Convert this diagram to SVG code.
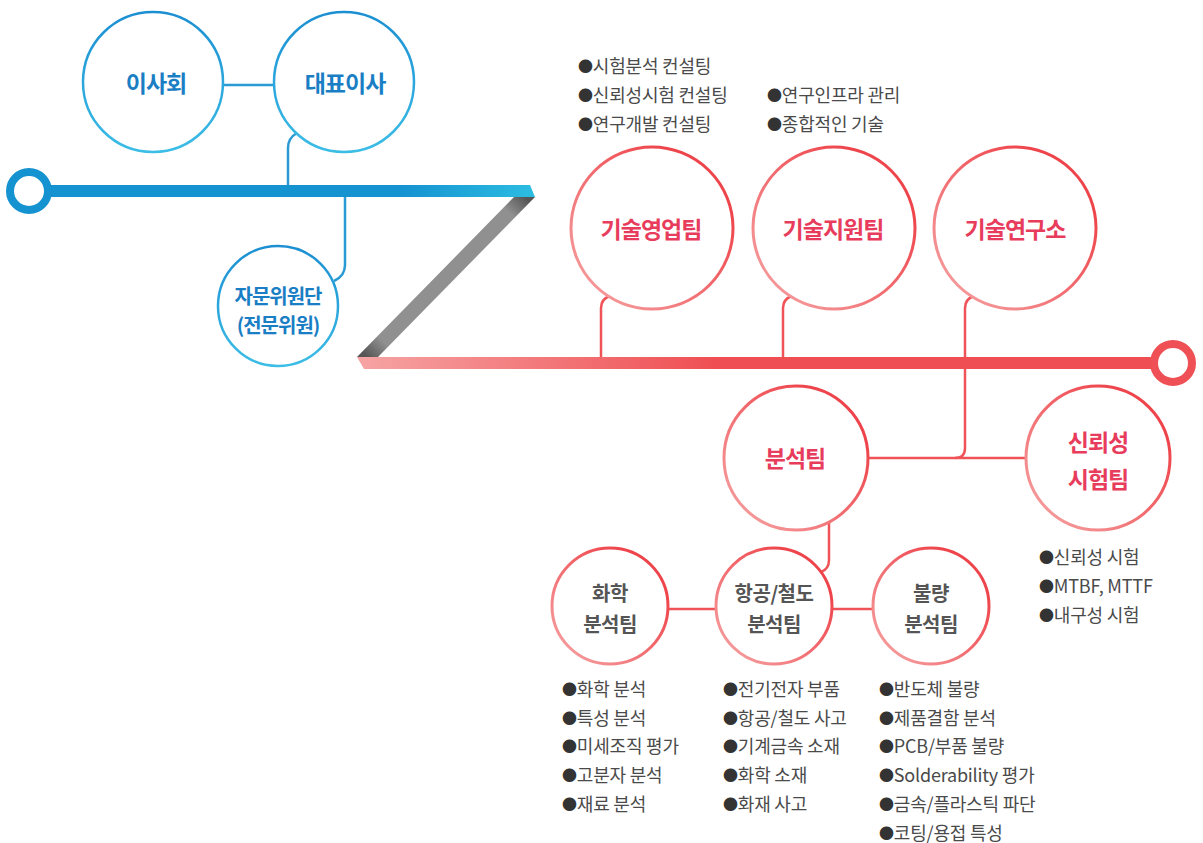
<svg xmlns="http://www.w3.org/2000/svg" width="1203" height="843" viewBox="0 0 1203 843">
<defs>
<linearGradient id="gBlueCircle" x1="0" y1="0" x2="0" y2="1"><stop offset="0" stop-color="#1b8fd2"/><stop offset="1" stop-color="#3cbde6"/></linearGradient>
<linearGradient id="gRedCircle" x1="1" y1="0" x2="0" y2="1"><stop offset="0.2" stop-color="#ee444b"/><stop offset="1" stop-color="#f6a7a7"/></linearGradient>
<linearGradient id="gBlueBar" gradientUnits="userSpaceOnUse" x1="400" y1="0" x2="535" y2="0"><stop offset="0" stop-color="#1592d0"/><stop offset="1" stop-color="#2cbde2"/></linearGradient>
<linearGradient id="gRedBar" gradientUnits="userSpaceOnUse" x1="357" y1="0" x2="720" y2="0"><stop offset="0" stop-color="#f6a4a4"/><stop offset="1" stop-color="#ef4e52"/></linearGradient>
<linearGradient id="gGray" gradientUnits="userSpaceOnUse" x1="525" y1="197" x2="367" y2="357"><stop offset="0" stop-color="#555"/><stop offset="0.1" stop-color="#909090"/><stop offset="0.9" stop-color="#909090"/><stop offset="1" stop-color="#555"/></linearGradient>
</defs>
<style>
.bc{fill:#fff;stroke:url(#gBlueCircle);stroke-width:2.5}
.rc{fill:#fff;stroke:url(#gRedCircle);stroke-width:3}
.bl{fill:none;stroke:#2a9ad5;stroke-width:2.5}
.rl{fill:none;stroke:#ef5358;stroke-width:2.5}
.tb{font-family:"Noto Sans CJK KR","Noto Sans",sans-serif;font-weight:700;font-size:23px;fill:#1a7ec4;text-anchor:middle;dominant-baseline:central;letter-spacing:-1px}
.tr{font-family:"Noto Sans CJK KR","Noto Sans",sans-serif;font-weight:700;font-size:23px;fill:#e83c5c;text-anchor:middle;dominant-baseline:central;letter-spacing:-1px}
.tg{font-family:"Noto Sans CJK KR","Noto Sans",sans-serif;font-weight:700;font-size:20px;fill:#555;text-anchor:middle;dominant-baseline:central;letter-spacing:-0.5px}
.li{font-family:"Noto Sans CJK KR","Noto Sans",sans-serif;font-size:18px;fill:#4a4a4a;dominant-baseline:central;letter-spacing:-0.2px}
.bu{font-size:15px;fill:#333}
</style>
<rect width="1203" height="843" fill="#fff"/>
<g id="connectors">
<line class="bl" x1="223" y1="85" x2="274" y2="85"/>
<path class="bl" d="M288,186 V148 Q288,138 297,133"/>
<path class="bl" d="M345,196 V265 Q345,276 334,281"/>
<path class="rl" d="M601,358 V308 Q601,299 610,296"/>
<path class="rl" d="M783,358 V308 Q783,299 792,296"/>
<path class="rl" d="M974,296 Q965,299 965,308 V448 Q965,458 955,458"/>
<line class="rl" x1="868" y1="458" x2="1026" y2="458"/>
<path class="rl" d="M829,522 V560 Q829,569 821,572"/>
<line class="rl" x1="668" y1="609" x2="716" y2="609"/>
<line class="rl" x1="832" y1="609" x2="873" y2="609"/>
</g>
<g id="track">
<polygon points="29,185 530,185 535,197 29,197" fill="url(#gBlueBar)"/>
<circle cx="29" cy="191" r="19" fill="#fff" stroke="#1592d0" stroke-width="8"/>
<polygon points="514,197 535,197 378,357 357,357" fill="url(#gGray)"/>
<polygon points="357,357 1173,357 1173,369 364,369" fill="url(#gRedBar)"/>
<circle cx="1173" cy="363" r="19" fill="#fff" stroke="#ef5055" stroke-width="8"/>
</g>
<g id="node-board"><circle class="bc" cx="153" cy="82" r="70"/><text class="tb" x="156" y="82">이사회</text></g>
<g id="node-ceo"><circle class="bc" cx="344" cy="82" r="70"/><text class="tb" x="345" y="82">대표이사</text></g>
<g id="node-advisory"><circle class="bc" cx="278" cy="306" r="60"/><text class="tb" x="278" y="295" style="font-size:20px">자문위원단</text><text class="tb" x="278" y="324" style="font-size:20px">(전문위원)</text></g>
<g id="node-sales"><circle class="rc" cx="652" cy="228" r="81"/><text class="tr" x="651" y="228">기술영업팀</text></g>
<g id="node-support"><circle class="rc" cx="834" cy="228" r="81"/><text class="tr" x="833" y="228">기술지원팀</text></g>
<g id="node-lab"><circle class="rc" cx="1015" cy="228" r="81"/><text class="tr" x="1015" y="228">기술연구소</text></g>
<g id="node-analysis"><circle class="rc" cx="796" cy="458" r="72"/><text class="tr" x="795" y="457">분석팀</text></g>
<g id="node-reliability"><circle class="rc" cx="1098" cy="458" r="72"/><text class="tr" x="1098" y="441">신뢰성</text><text class="tr" x="1098" y="478">시험팀</text></g>
<g id="node-chem"><circle class="rc" cx="610" cy="606" r="58"/><text class="tg" x="610" y="592">화학</text><text class="tg" x="610" y="623">분석팀</text></g>
<g id="node-aero"><circle class="rc" cx="774" cy="606" r="58"/><text class="tg" x="774" y="592">항공/철도</text><text class="tg" x="774" y="623">분석팀</text></g>
<g id="node-defect"><circle class="rc" cx="931" cy="606" r="58"/><text class="tg" x="931" y="592">불량</text><text class="tg" x="931" y="623">분석팀</text></g>
<g id="list-sales">
<text class="li" x="578" y="65"><tspan class="bu">●</tspan>시험분석 컨설팅</text>
<text class="li" x="578" y="94"><tspan class="bu">●</tspan>신뢰성시험 컨설팅</text>
<text class="li" x="578" y="123"><tspan class="bu">●</tspan>연구개발 컨설팅</text>
</g>
<g id="list-support">
<text class="li" x="767" y="94"><tspan class="bu">●</tspan>연구인프라 관리</text>
<text class="li" x="767" y="123"><tspan class="bu">●</tspan>종합적인 기술</text>
</g>
<g id="list-reliability">
<text class="li" x="1039" y="556"><tspan class="bu">●</tspan>신뢰성 시험</text>
<text class="li" x="1039" y="585"><tspan class="bu">●</tspan>MTBF, MTTF</text>
<text class="li" x="1039" y="614"><tspan class="bu">●</tspan>내구성 시험</text>
</g>
<g id="list-chem">
<text class="li" x="562" y="688"><tspan class="bu">●</tspan>화학 분석</text>
<text class="li" x="562" y="717"><tspan class="bu">●</tspan>특성 분석</text>
<text class="li" x="562" y="745"><tspan class="bu">●</tspan>미세조직 평가</text>
<text class="li" x="562" y="774"><tspan class="bu">●</tspan>고분자 분석</text>
<text class="li" x="562" y="803"><tspan class="bu">●</tspan>재료 분석</text>
</g>
<g id="list-aero">
<text class="li" x="723" y="688"><tspan class="bu">●</tspan>전기전자 부품</text>
<text class="li" x="723" y="717"><tspan class="bu">●</tspan>항공/철도 사고</text>
<text class="li" x="723" y="745"><tspan class="bu">●</tspan>기계금속 소재</text>
<text class="li" x="723" y="774"><tspan class="bu">●</tspan>화학 소재</text>
<text class="li" x="723" y="803"><tspan class="bu">●</tspan>화재 사고</text>
</g>
<g id="list-defect">
<text class="li" x="879" y="688"><tspan class="bu">●</tspan>반도체 불량</text>
<text class="li" x="879" y="717"><tspan class="bu">●</tspan>제품결함 분석</text>
<text class="li" x="879" y="745"><tspan class="bu">●</tspan>PCB/부품 불량</text>
<text class="li" x="879" y="774"><tspan class="bu">●</tspan>Solderability 평가</text>
<text class="li" x="879" y="803"><tspan class="bu">●</tspan>금속/플라스틱 파단</text>
<text class="li" x="879" y="832"><tspan class="bu">●</tspan>코팅/용접 특성</text>
</g>
</svg>
